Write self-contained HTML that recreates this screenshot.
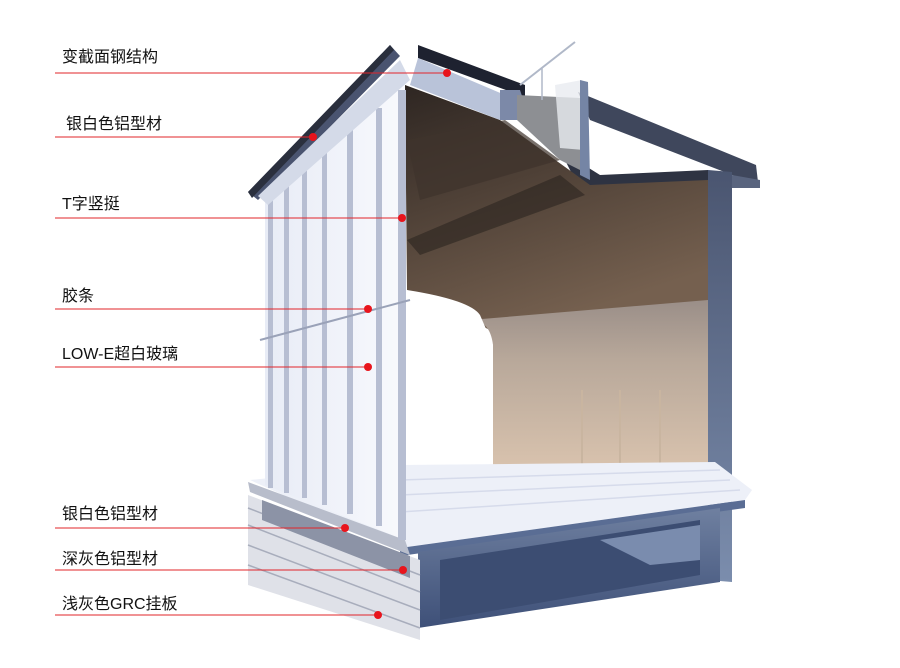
<!DOCTYPE html>
<html><head><meta charset="utf-8"><style>
body{margin:0;width:900px;height:668px;background:#fff;overflow:hidden;position:relative;font-family:"Liberation Sans","Noto Sans CJK SC",sans-serif}
.t{position:absolute;left:62px;font-size:16px;color:#111;white-space:nowrap}
svg{position:absolute;left:0;top:0}
</style></head><body>
<svg width="900" height="668" viewBox="0 0 900 668">
<defs>
<linearGradient id="glass" x1="0" x2="1"><stop offset="0" stop-color="#e8ecf6"/><stop offset="1" stop-color="#f8f9fd"/></linearGradient>
<linearGradient id="ceil" x1="0" y1="0" x2="0.4" y2="1"><stop offset="0" stop-color="#2e2622"/><stop offset="1" stop-color="#75604f"/></linearGradient>
<linearGradient id="wall" x1="0" y1="0" x2="0" y2="1"><stop offset="0" stop-color="#9a8e88"/><stop offset="0.35" stop-color="#b8a89a"/><stop offset="1" stop-color="#d9c3ae"/></linearGradient>
<linearGradient id="slab" x1="0" y1="0" x2="0" y2="1"><stop offset="0" stop-color="#6f80a0"/><stop offset="1" stop-color="#3e5078"/></linearGradient>
<linearGradient id="col" x1="0" y1="0" x2="0" y2="1"><stop offset="0" stop-color="#4a5570"/><stop offset="1" stop-color="#7b8dad"/></linearGradient>
</defs>
<polygon points="578,92 756,165 758,182 740,178 590,120" fill="#3f475c"/>
<polygon points="708,170 732,172 732,582 708,580" fill="url(#col)"/>
<polygon points="732,175 760,180 760,188 732,188" fill="#59647e"/>
<polygon points="560,150 600,175 708,170 708,240 600,230" fill="#2e3342"/>
<polygon points="405,85 500,120 590,185 708,180 708,330 490,330 407,290" fill="url(#ceil)"/>
<polygon points="407,140 505,120 560,160 420,200" fill="#3f332c" opacity="0.7"/>
<polygon points="407,240 560,175 585,195 420,255" fill="#2b2420" opacity="0.6"/>
<path d="M470,320 Q490,320 493,345 L493,470 L708,470 L708,300 Z" fill="url(#wall)"/>
<path d="M407,290 Q470,300 480,315 L493,345 L493,470 L430,470 L410,300Z" fill="#fff"/>
<g stroke="#c9b5a0" stroke-width="2"><line x1="582" y1="390" x2="582" y2="470"/><line x1="620" y1="390" x2="620" y2="470"/><line x1="660" y1="390" x2="660" y2="470"/></g>
<polygon points="250,480 400,465 715,462 752,490 745,500 400,548" fill="#edf0f8"/>
<g stroke="#d6dbeb" stroke-width="1.5"><line x1="400" y1="480" x2="720" y2="470"/><line x1="400" y1="495" x2="730" y2="480"/><line x1="400" y1="512" x2="740" y2="490"/></g>
<polygon points="400,548 745,500 745,508 400,556" fill="#5a6d94"/>
<polygon points="418,552 720,508 720,582 700,585 418,628" fill="url(#slab)"/>
<polygon points="440,560 700,520 700,575 440,620" fill="#3c4d72"/>
<polygon points="600,540 700,525 700,560 650,565" fill="#7a8cae"/>
<polygon points="248,495 420,560 420,640 248,585" fill="#dfe1e8"/>
<g stroke="#a8adbc" stroke-width="1.5"><line x1="248" y1="508" x2="420" y2="575"/><line x1="248" y1="525" x2="420" y2="592"/><line x1="248" y1="545" x2="420" y2="610"/><line x1="248" y1="565" x2="420" y2="628"/></g>
<polygon points="262,500 410,556 410,578 262,520" fill="#8c93a6"/>
<polygon points="248,482 405,540 410,555 250,492" fill="#b8bdcb"/>
<polygon points="265,195 405,85 405,540 265,485" fill="url(#glass)"/>
<g fill="#b7bed2">
<rect x="268" y="190" width="5" height="298"/><rect x="284" y="178" width="5" height="315"/>
<rect x="302" y="165" width="5" height="333"/><rect x="322" y="150" width="5" height="355"/>
<rect x="347" y="130" width="6" height="384"/><rect x="376" y="108" width="6" height="418"/>
<rect x="398" y="90" width="8" height="450"/>
</g>
<line x1="260" y1="340" x2="410" y2="300" stroke="#9aa2b8" stroke-width="2"/>
<polygon points="248,192 390,45 400,56 258,200" fill="#4a5470"/>
<polygon points="248,192 390,45 394,50 252,198" fill="#2a2f3d"/>
<polygon points="258,196 400,60 410,80 268,205" fill="#d4dae8"/>
<polygon points="418,45 525,85 525,97 418,58" fill="#1e2230"/>
<polygon points="418,58 505,95 500,120 410,85" fill="#b9c3d9"/>
<polygon points="500,90 520,90 530,120 500,120" fill="#7c89a8"/>
<polygon points="517,95 580,98 580,170 560,160 517,120" fill="#8d8f93"/>
<polygon points="555,85 582,80 584,150 560,148" fill="#e8ebf0" opacity="0.8"/>
<polygon points="580,80 588,82 590,180 580,175" fill="#7585a5"/>
<line x1="520" y1="85" x2="575" y2="42" stroke="#b0b8c8" stroke-width="2"/>
<line x1="542" y1="68" x2="542" y2="100" stroke="#b0b8c8" stroke-width="1.5"/>
<g stroke="#e2242a" stroke-width="1">
<line x1="55" y1="73" x2="447" y2="73"/><line x1="55" y1="137" x2="313" y2="137"/>
<line x1="55" y1="218" x2="402" y2="218"/><line x1="55" y1="309" x2="368" y2="309"/>
<line x1="55" y1="367" x2="368" y2="367"/><line x1="55" y1="528" x2="345" y2="528"/>
<line x1="55" y1="570" x2="403" y2="570"/><line x1="55" y1="615" x2="378" y2="615"/>
</g>
<g fill="#e8141c">
<circle cx="447" cy="73" r="4"/><circle cx="313" cy="137" r="4"/><circle cx="402" cy="218" r="4"/>
<circle cx="368" cy="309" r="4"/><circle cx="368" cy="367" r="4"/><circle cx="345" cy="528" r="4"/>
<circle cx="403" cy="570" r="4"/><circle cx="378" cy="615" r="4"/>
</g>
</svg>
<div class="t" style="top:43px">变截面钢结构</div>
<div class="t" style="top:110px;left:66px">银白色铝型材</div>
<div class="t" style="top:190px">T字竖挺</div>
<div class="t" style="top:282px">胶条</div>
<div class="t" style="top:340px">LOW-E超白玻璃</div>
<div class="t" style="top:500px">银白色铝型材</div>
<div class="t" style="top:545px">深灰色铝型材</div>
<div class="t" style="top:590px">浅灰色GRC挂板</div>
</body></html>
